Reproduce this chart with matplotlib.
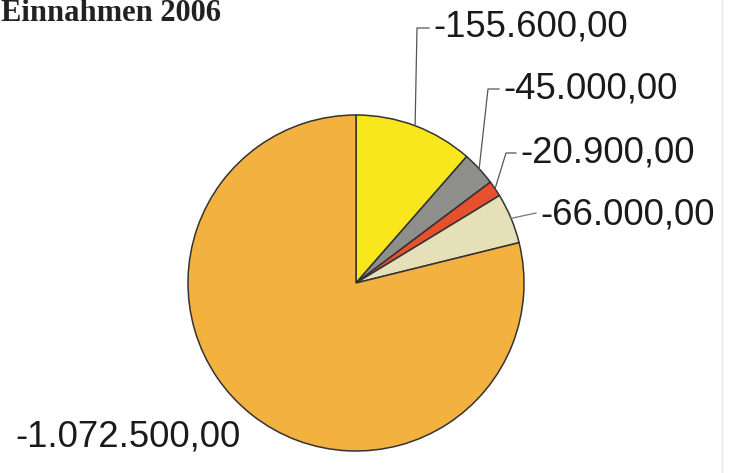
import matplotlib
matplotlib.use("Agg")
from matplotlib import pyplot as plt
import numpy as np

# Einnahmen 2006, Betraege in Euro
betraege = [155600.0, 45000.0, 20900.0, 66000.0, 1072500.0]
beschriftung = ["-155.600,00", "-45.000,00", "-20.900,00", "-66.000,00", "-1.072.500,00"]
farben = ["#f8e71c", "#8e8e8b", "#e6502c", "#e6e0b9", "#f3b240"]

W, H = 733, 473
fig = plt.figure(figsize=(W / 100, H / 100), dpi=100)
ax = fig.add_axes([0, 0, 1, 1])

cx, cy, r = 356, H - 283, 168
wedges, _ = ax.pie(betraege, colors=farben, startangle=90, counterclock=False,
                   center=(cx, cy), radius=r, frame=True,
                   wedgeprops=dict(edgecolor="#333333", linewidth=1.1))
ax.set_xlim(0, W)
ax.set_ylim(0, H)
ax.set_aspect("equal")
ax.axis("off")

# Beschriftungen mit Fuehrungslinien (Knick am Text)
pos = [(433, H - 27), (503, H - 89), (520, H - 153), (540, H - 215), (15, H - 437)]
knick = [(417, H - 28), (488, H - 89), (506, H - 153), None, None]
for i, w in enumerate(wedges):
    tx, ty = pos[i]
    if i < 4:
        a = np.deg2rad((w.theta1 + w.theta2) / 2)
        px, py = cx + r * np.cos(a), cy + r * np.sin(a)
        if knick[i] is not None:
            kx, ky = knick[i]
            ax.plot([px, kx, tx - 4], [py, ky, ky], color="#555555", lw=0.9)
        else:
            ax.plot([px, tx - 4], [py, ty + 2], color="#777777", lw=0.9)
    ax.text(tx, ty, beschriftung[i], ha="left", va="center",
            fontsize=26.3, family="Liberation Sans", color="#1a1a1a")

ax.text(1, H - 21, "Einnahmen 2006", ha="left", va="baseline",
        fontsize=22, fontweight="bold", family="Liberation Serif", color="#222222")

# blasse Kante rechts
ax.plot([722, 722], [0, H], color="#e4e4e4", lw=1)

fig.savefig("out.png", dpi=100)
plt.close(fig)
